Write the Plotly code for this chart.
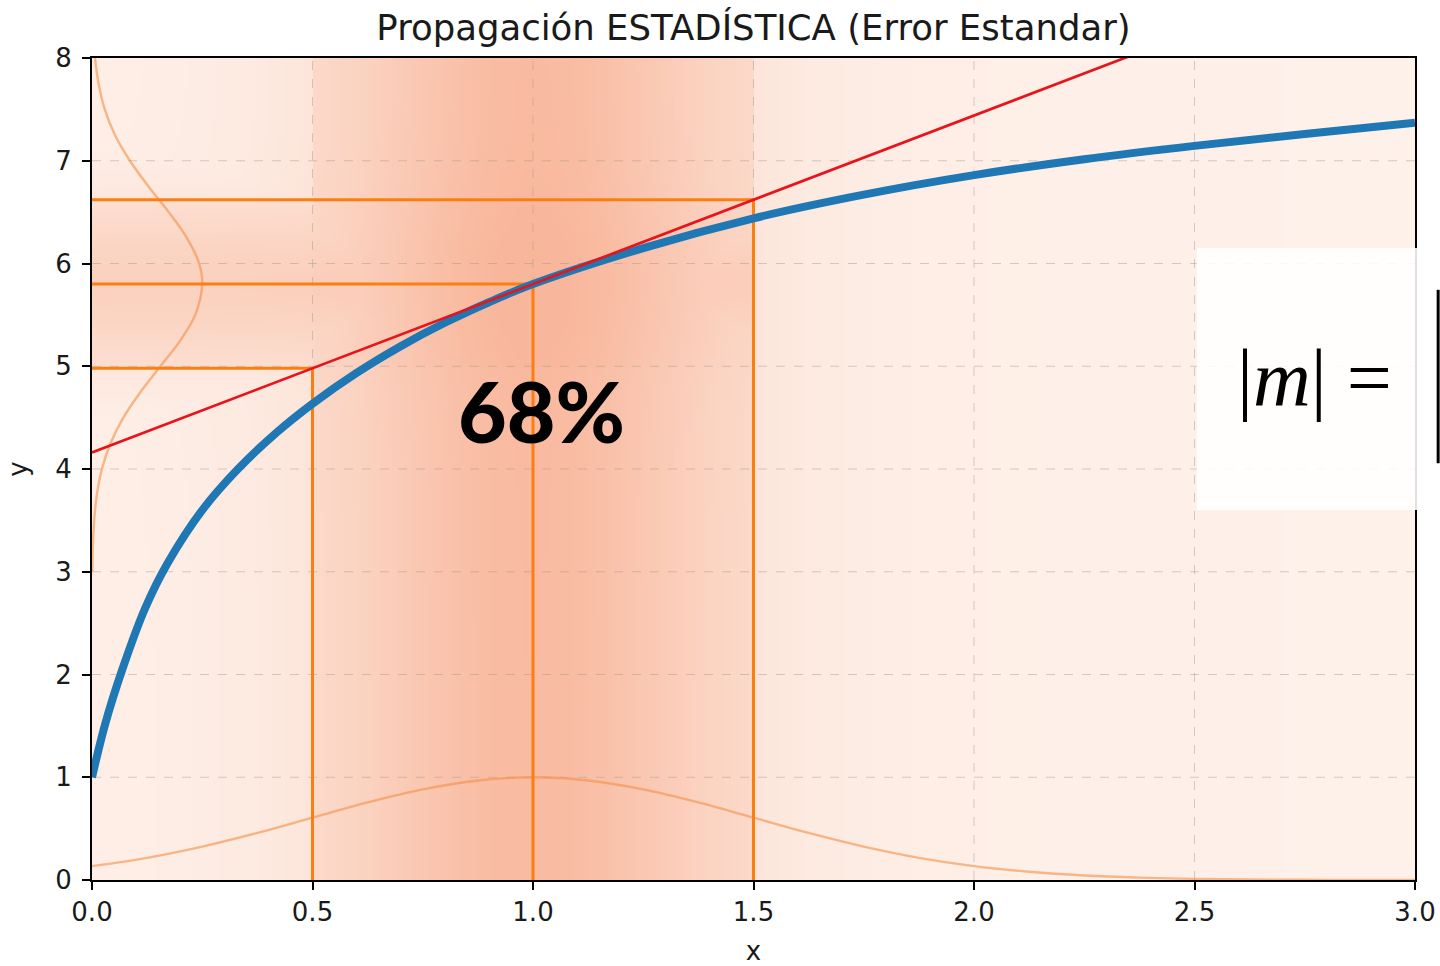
import numpy as np
import plotly.graph_objects as go

# ---------------- data ----------------
CURVE_X = [0.0, 0.03, 0.068, 0.12, 0.171, 0.25, 0.331, 0.42, 0.5, 0.6, 0.7, 0.8, 0.9,
           1.0, 1.25, 1.5, 1.75, 2.0, 2.25, 2.5, 2.75, 3.0]
CURVE_Y = [1.0, 1.52, 2.04, 2.64, 3.08, 3.6, 4.0, 4.36, 4.635, 4.935, 5.195, 5.423, 5.623,
           5.8, 6.15, 6.44, 6.67, 6.86, 7.015, 7.145, 7.26, 7.37]

TANGENT_X = [0.0, 3.0]
TANGENT_Y = [4.16, 9.08]

X_MARKS = [0.5, 1.0, 1.5]          # x0 - s, x0, x0 + s
Y_MARKS = [4.98, 5.8, 6.62]        # matching y values on the tangent

# bottom gaussian (input distribution), y as a function of x
GX_X = [0.0, 0.125, 0.25, 0.375, 0.5, 0.625, 0.75, 0.875, 1.0, 1.125, 1.25, 1.375, 1.5,
        1.625, 1.75, 1.875, 2.0, 2.125, 2.25, 2.375, 2.5, 2.625, 2.75, 2.875, 3.0]
GX_Y = [0.135, 0.216, 0.325, 0.458, 0.607, 0.755, 0.882, 0.969, 1.0, 0.969, 0.882, 0.755, 0.607,
        0.458, 0.325, 0.216, 0.135, 0.080, 0.044, 0.023, 0.011, 0.005, 0.002, 0.001, 0.0003]

# left gaussian (output distribution), x as a function of y
GY_Y = [3.0, 3.25, 3.5, 3.75, 4.0, 4.25, 4.5, 4.75, 5.0, 5.25, 5.5, 5.8, 6.0, 6.25,
        6.5, 6.75, 7.0, 7.25, 7.5, 7.75, 8.0]
GY_X = [0.0007, 0.002, 0.0049, 0.011, 0.0225, 0.042, 0.071, 0.110, 0.155, 0.200, 0.234, 0.25,
        0.243, 0.215, 0.174, 0.128, 0.086, 0.052, 0.029, 0.015, 0.0068]

X_TICKS = [0.0, 0.5, 1.0, 1.5, 2.0, 2.5, 3.0]
X_TICK_TEXT = ["0.0", "0.5", "1.0", "1.5", "2.0", "2.5", "3.0"]
Y_TICKS = [0, 1, 2, 3, 4, 5, 6, 7, 8]

TITLE = "Propagación ESTADÍSTICA (Error Estandar)"
LABEL_PCT = "68%"

# ---------------- background shading (density bands) ----------------
cx = X_MARKS[1]
cy = Y_MARKS[1]
xs = (np.arange(300) + 0.5) * 0.01
ys = (np.arange(400) + 0.5) * 0.02
tv = (0.02 + 0.08 * np.exp(-(xs - cx) ** 2 / 2.0)
      + 0.5 * np.exp(-(xs - cx) ** 2 / 0.18)
      + 0.18 * ((xs >= X_MARKS[0]) & (xs <= X_MARKS[2])))
th = (0.32 * np.exp(-(ys - cy) ** 2 / 0.72)
      + 0.06 * np.exp(-(ys - cy) ** 2 / 4.5)
      + 0.12 * ((ys >= Y_MARKS[0]) & (ys <= Y_MARKS[2])))
TV, TH = np.meshgrid(tv, th)
TH = TH * (xs[None, :] <= X_MARKS[2])
Z = np.clip(np.maximum(TV, TH) + 0.12 * np.minimum(TV, TH), 0, 1)

fig = go.Figure()
fig.add_trace(go.Heatmap(
    x=xs, y=ys, z=Z, zmin=0, zmax=1, showscale=False, hoverinfo="skip",
    colorscale=[[0, "rgb(254,243,237)"], [0.5, "rgb(251,210,192)"], [1, "rgb(247,168,137)"]],
))

# grid lines (drawn above the shading, below the curves)
grid_col = "rgba(160,150,145,0.45)"
for gx in X_TICKS[1:-1]:
    fig.add_trace(go.Scatter(x=[gx, gx], y=[Y_TICKS[0], Y_TICKS[-1]], mode="lines",
                             line=dict(color=grid_col, width=1, dash="dash"),
                             hoverinfo="skip", showlegend=False))
for gy in Y_TICKS[1:-1]:
    fig.add_trace(go.Scatter(x=[X_TICKS[0], X_TICKS[-1]], y=[gy, gy], mode="lines",
                             line=dict(color=grid_col, width=1, dash="dash"),
                             hoverinfo="skip", showlegend=False))

# gaussians
gauss_col = "rgba(243,145,72,0.62)"
fig.add_trace(go.Scatter(x=GX_X, y=GX_Y, mode="lines", line=dict(color=gauss_col, width=2.4, shape="spline"),
                         showlegend=False, hoverinfo="skip"))
fig.add_trace(go.Scatter(x=GY_X, y=GY_Y, mode="lines", line=dict(color=gauss_col, width=2.4, shape="spline"),
                         showlegend=False, hoverinfo="skip"))

# orange guide lines
orange = "#fb7f10"
for xm, ym in zip(X_MARKS, Y_MARKS):
    fig.add_trace(go.Scatter(x=[xm, xm], y=[0, ym], mode="lines", line=dict(color=orange, width=3),
                             showlegend=False, hoverinfo="skip"))
    fig.add_trace(go.Scatter(x=[0, xm], y=[ym, ym], mode="lines", line=dict(color=orange, width=3),
                             showlegend=False, hoverinfo="skip"))

# main curve
fig.add_trace(go.Scatter(x=CURVE_X, y=CURVE_Y, mode="lines",
                         line=dict(color="#1f77b4", width=8, shape="spline", smoothing=1.0),
                         showlegend=False))
# tangent
fig.add_trace(go.Scatter(x=TANGENT_X, y=TANGENT_Y, mode="lines",
                         line=dict(color="#e8141c", width=2.7), showlegend=False))

# 68% label
fig.add_annotation(x=1.02, y=4.57, xref="x", yref="y", text=LABEL_PCT, showarrow=False,
                   font=dict(family="Lato", size=84, color="black", weight=900))

# white box with formula (cut off at the right edge)
fig.add_shape(type="rect", xref="paper", yref="paper", x0=0.835, x1=1.1, y0=0.45, y1=0.769,
              fillcolor="rgba(255,255,255,0.88)", line=dict(width=0), layer="above")
fig.add_annotation(xref="paper", yref="paper", x=0.864, y=0.611, xanchor="left", yanchor="middle",
                   text="|<i>m</i>| =", showarrow=False,
                   font=dict(family="Liberation Serif", size=80, color="black"))
fig.add_shape(type="line", xref="paper", yref="paper", x0=1.0175, x1=1.0175, y0=0.507, y1=0.718,
              line=dict(color="black", width=3), layer="above")

axis_font = dict(family="DejaVu Sans", size=26, color="#1a1a1a")
fig.update_layout(
    width=1440, height=966,
    margin=dict(l=92, r=25, t=58, b=86, autoexpand=False),
    paper_bgcolor="white", plot_bgcolor="white",
    title=dict(text=TITLE, x=0.5, xref="paper", y=1 - 28 / 966, yref="container",
               xanchor="center", yanchor="middle",
               font=dict(family="DejaVu Sans", size=35.5, color="#1a1a1a")),
    xaxis=dict(range=[0, 3], tickvals=X_TICKS, ticktext=X_TICK_TEXT, showgrid=False, zeroline=False,
               showline=True, linecolor="black", linewidth=2, mirror=True, automargin=False,
               ticks="outside", ticklen=8, tickwidth=1.5, tickcolor="black", tickfont=axis_font,
               title=dict(text="x", font=axis_font, standoff=20)),
    yaxis=dict(range=[0, 8], tickvals=Y_TICKS, showgrid=False, zeroline=False,
               showline=True, linecolor="black", linewidth=2, mirror=True, automargin=False,
               ticks="outside", ticklen=8, tickwidth=1.5, tickcolor="black", tickfont=axis_font,
               ticklabelstandoff=5,
               title=dict(text="y", font=axis_font, standoff=20)),
)

fig.write_html("out.html")
